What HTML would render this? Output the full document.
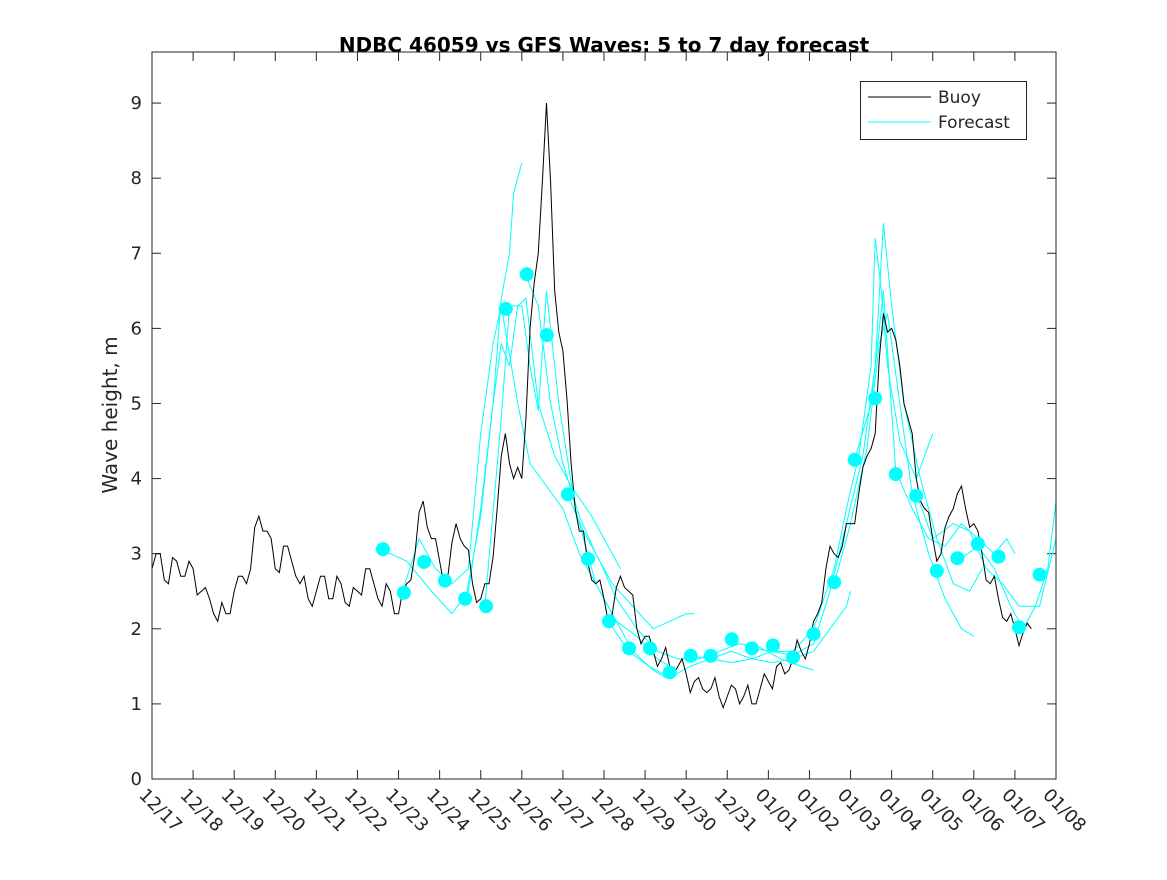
<!DOCTYPE html>
<html><head><meta charset="utf-8"><style>
body{margin:0;background:#fff;}
svg text{font-family:"DejaVu Sans","Liberation Sans",sans-serif;}
</style></head><body>
<svg id="chart" width="1167" height="875" xmlns="http://www.w3.org/2000/svg">
<rect width="1167" height="875" fill="#fff"/>
<text x="604" y="52" text-anchor="middle" font-size="20" font-weight="bold">NDBC 46059 vs GFS Waves: 5 to 7 day forecast</text>
<text transform="translate(117,415) rotate(-90)" text-anchor="middle" font-size="20" fill="#262626">Wave height, m</text>
<g id="axes"></g>
<g id="series"></g>
<rect x="152" y="52" width="904" height="727" fill="none" stroke="#262626" stroke-width="1"/>
<g>
<rect x="860.5" y="81.5" width="166" height="58" fill="#fff" stroke="#262626"/>
<line x1="868" y1="97" x2="931" y2="97" stroke="#000"/>
<text x="938" y="103" font-size="17" fill="#262626">Buoy</text>
<line x1="868" y1="122" x2="931" y2="122" stroke="#00ffff"/>
<text x="938" y="128" font-size="17" fill="#262626">Forecast</text>
</g>
</svg>
<script>
const xTickLabels=["12/17","12/18","12/19","12/20","12/21","12/22","12/23","12/24","12/25","12/26","12/27","12/28","12/29","12/30","12/31","01/01","01/02","01/03","01/04","01/05","01/06","01/07","01/08"];
const yTicks=[0,1,2,3,4,5,6,7,8,9];
const buoyStep=0.2;
const buoyValues=[2.8,3.0,2.6,2.9,2.7, 2.8,2.5,2.4,2.1,2.2, 2.5,2.7,2.8,3.5,3.3, 2.8,3.1,2.9,2.6,2.4, 2.5,2.7,2.4,2.6,2.3, 2.5,2.8,2.6,2.3,2.5,
2.2,2.6,3.0,3.7,3.2, 2.9,2.7,3.4,3.1,2.6, 2.4,2.6,3.6,4.6,4.0, 4.0,6.0,7.0,9.0,6.5, 5.7,4.2,3.3,2.9,2.6, 2.4,2.2,2.7,2.5,2.0,
1.9,1.7,1.6,1.5,1.5, 1.4,1.3,1.2,1.2,1.1, 1.1,1.2,1.1,1.0,1.2, 1.3,1.5,1.4,1.6,1.7, 1.8,2.2,2.8,3.0,3.1, 3.4,3.8,4.3,4.6,6.2,
6.0,5.5,4.8,4.0,3.6, 3.2,3.0,3.5,3.8,3.6, 3.4,3.0,2.6,2.4,2.1, 2.0,1.95,2.0];
const buoyJitter=[0.1,-0.15,0.2,-0.1,0.15,-0.2,0.1,-0.05,0.2,-0.15];
const dotDays=[5.62,6.13,6.62,7.13,7.62,8.13,8.61,9.12,9.61,10.12,10.61,11.12,11.61,12.12,12.6,13.11,13.6,14.11,14.6,15.11,15.6,16.1,16.6,17.1,17.6,18.1,18.6,19.1,19.6,20.1,20.6,21.1,21.6];
const dotValues=[3.06,2.48,2.89,2.64,2.40,2.30,6.26,6.72,5.91,3.79,2.93,2.10,1.74,1.74,1.42,1.64,1.64,1.86,1.74,1.78,1.62,1.93,2.62,4.25,5.07,4.06,3.77,2.77,2.94,3.13,2.96,2.02,2.72];
const fcA=[[5.6,3.05],[6.2,2.9],[6.8,2.5],[7.3,2.2],[7.7,2.5],[8.0,3.6],[8.3,5.0],[8.5,5.8],[8.7,5.5],[8.9,6.3],[9.1,6.4],[9.4,5.0],[9.8,4.3],[10.2,3.9],[10.7,3.5],[11.0,3.2],[11.4,2.8]];
const fcB=[[6.1,2.5],[6.5,3.2],[6.9,2.8],[7.3,2.6],[7.7,2.8],[8.0,4.6],[8.3,5.8],[8.5,6.3],[8.9,5.0],[9.2,4.2],[9.6,3.9],[10.0,3.6],[10.4,3.0],[10.8,2.6],[11.2,2.2],[11.7,1.7],[12.2,1.45],[12.5,1.35]];
const fcC=[[7.6,2.3],[8.0,3.5],[8.3,5.0],[8.5,6.4],[8.7,7.0],[8.8,7.8],[8.9,8.0],[9.0,8.2]];
const fcD=[[8.1,2.3],[8.5,4.8],[8.7,6.3],[9.0,6.3],[9.2,5.5],[9.4,4.9],[9.6,6.5],[9.9,5.0],[10.3,3.6],[10.8,2.6],[11.3,2.1],[11.8,1.9],[12.3,1.6],[12.6,1.5]];
const fcE=[[9.1,6.7],[9.4,6.3],[9.7,5.0],[10.0,4.2],[10.4,3.5],[10.8,3.0],[11.2,2.6],[11.7,2.3],[12.2,2.0],[12.6,2.1],[13.0,2.2],[13.2,2.2]];
const fcF=[[10.1,3.8],[10.5,3.3],[10.9,2.9],[11.3,2.4],[11.8,2.0],[12.3,1.7],[12.8,1.6],[13.3,1.6],[13.8,1.7],[14.3,1.8],[14.8,1.75],[15.3,1.6],[15.8,1.5],[16.1,1.45]];
const fcG=[[11.1,2.1],[11.6,1.7],[12.1,1.5],[12.6,1.35],[13.1,1.5],[13.6,1.6],[14.1,1.7],[14.6,1.6],[15.1,1.55],[15.6,1.6],[16.1,1.7],[16.5,2.0],[16.9,2.3],[17.0,2.5]];
const fcH=[[13.1,1.64],[13.6,1.6],[14.1,1.55],[14.6,1.6],[15.1,1.7],[15.6,1.7],[16.1,2.0],[16.6,2.8],[16.9,3.6],[17.2,4.3],[17.5,5.5],[17.6,7.2],[17.75,6.5],[17.9,5.5],[18.2,4.5],[18.6,4.0],[18.8,4.3],[19.0,4.6]];
const fcI=[[14.6,1.74],[15.1,1.7],[15.6,1.65],[16.1,1.8],[16.5,2.5],[16.9,3.4],[17.3,4.3],[17.6,5.5],[17.8,7.4],[18.0,6.3],[18.3,5.0],[18.7,4.0],[19.1,3.2],[19.5,2.6],[19.9,2.5],[20.2,2.8]];
const fcJ=[[16.6,2.6],[17.0,3.4],[17.4,4.4],[17.7,5.8],[17.9,6.2],[18.2,5.0],[18.5,3.8],[18.9,3.0],[19.3,2.4],[19.7,2.0],[20.0,1.9]];
const fcK=[[17.1,4.25],[17.5,5.0],[17.8,6.5],[18.1,4.1],[18.5,3.6],[18.9,3.2],[19.3,3.1],[19.7,3.4],[20.1,3.2],[20.5,3.0],[20.8,3.2],[21.0,3.0]];
const fcL=[[18.6,3.8],[19.0,3.2],[19.5,3.4],[19.9,3.3],[20.3,2.8],[20.7,2.6],[21.1,2.3],[21.6,2.3],[22,3.2]];
const fcM=[[19.6,2.9],[20.1,3.1],[20.5,2.8],[20.9,2.3],[21.2,2.0],[21.5,2.3],[21.8,2.8],[22,3.7]];
const forecasts=[fcA,fcB,fcC,fcD,fcE,fcF,fcG,fcH,fcI,fcJ,fcK,fcL,fcM];

const NS="http://www.w3.org/2000/svg";
const X0=152,X1=1056,Y0=779,YT=52;
function xs(d){return X0+(X1-X0)*d/22;}
function ys(v){return Y0-(Y0-YT)*v/9.68;}
const axes=document.getElementById('axes'),series=document.getElementById('series');
function mk(tag,attrs,parent){const e=document.createElementNS(NS,tag);for(const k in attrs)e.setAttribute(k,attrs[k]);parent.appendChild(e);return e;}
xTickLabels.forEach((lab,i)=>{
  const x=xs(i);
  const t1=mk('line',{x1:x,y1:Y0,x2:x,y2:Y0-9,stroke:'#262626'},axes);
  
  
  const t2=mk('line',{x1:x,y1:YT,x2:x,y2:YT+9,stroke:'#262626'},axes);
  
  
  const tx=mk('text',{transform:`translate(${x-14},${Y0+17}) rotate(45)`,'font-size':18,fill:'#262626'},axes);
  tx.textContent=lab;
  
  
});
yTicks.forEach(v=>{
  const y=ys(v);
  const t1=mk('line',{x1:X0,y1:y,x2:X0+9,y2:y,stroke:'#262626'},axes);
  
  
  const t2=mk('line',{x1:X1,y1:y,x2:X1-9,y2:y,stroke:'#262626'},axes);
  
  
  const tx=mk('text',{x:X0-10,y:y+6,'text-anchor':'end','font-size':18,fill:'#262626'},axes);
  tx.textContent=v;
  
  
});
forecasts.forEach(fc=>{
  const p=mk('polyline',{points:fc.map(q=>xs(q[0])+','+ys(q[1])).join(' '),fill:'none',stroke:'#00ffff','stroke-width':1},series);
  
  
});
const pts=[];
buoyValues.forEach((v,i)=>{
  const d=i*buoyStep;
  pts.push(xs(d)+','+ys(v));
  const d2=d+buoyStep/2;
  if(i<buoyValues.length-1){
    const mid=(v+buoyValues[i+1])/2+buoyJitter[i%buoyJitter.length];
    pts.push(xs(d2)+','+ys(mid));
  }
});
const bl=mk('polyline',{points:pts.join(' '),fill:'none',stroke:'#000','stroke-width':1},series);


dotDays.forEach((d,i)=>{
  const c=mk('circle',{cx:xs(d),cy:ys(dotValues[i]),r:7,fill:'#00ffff'},series);
  
  
});
</script>
</body></html>
